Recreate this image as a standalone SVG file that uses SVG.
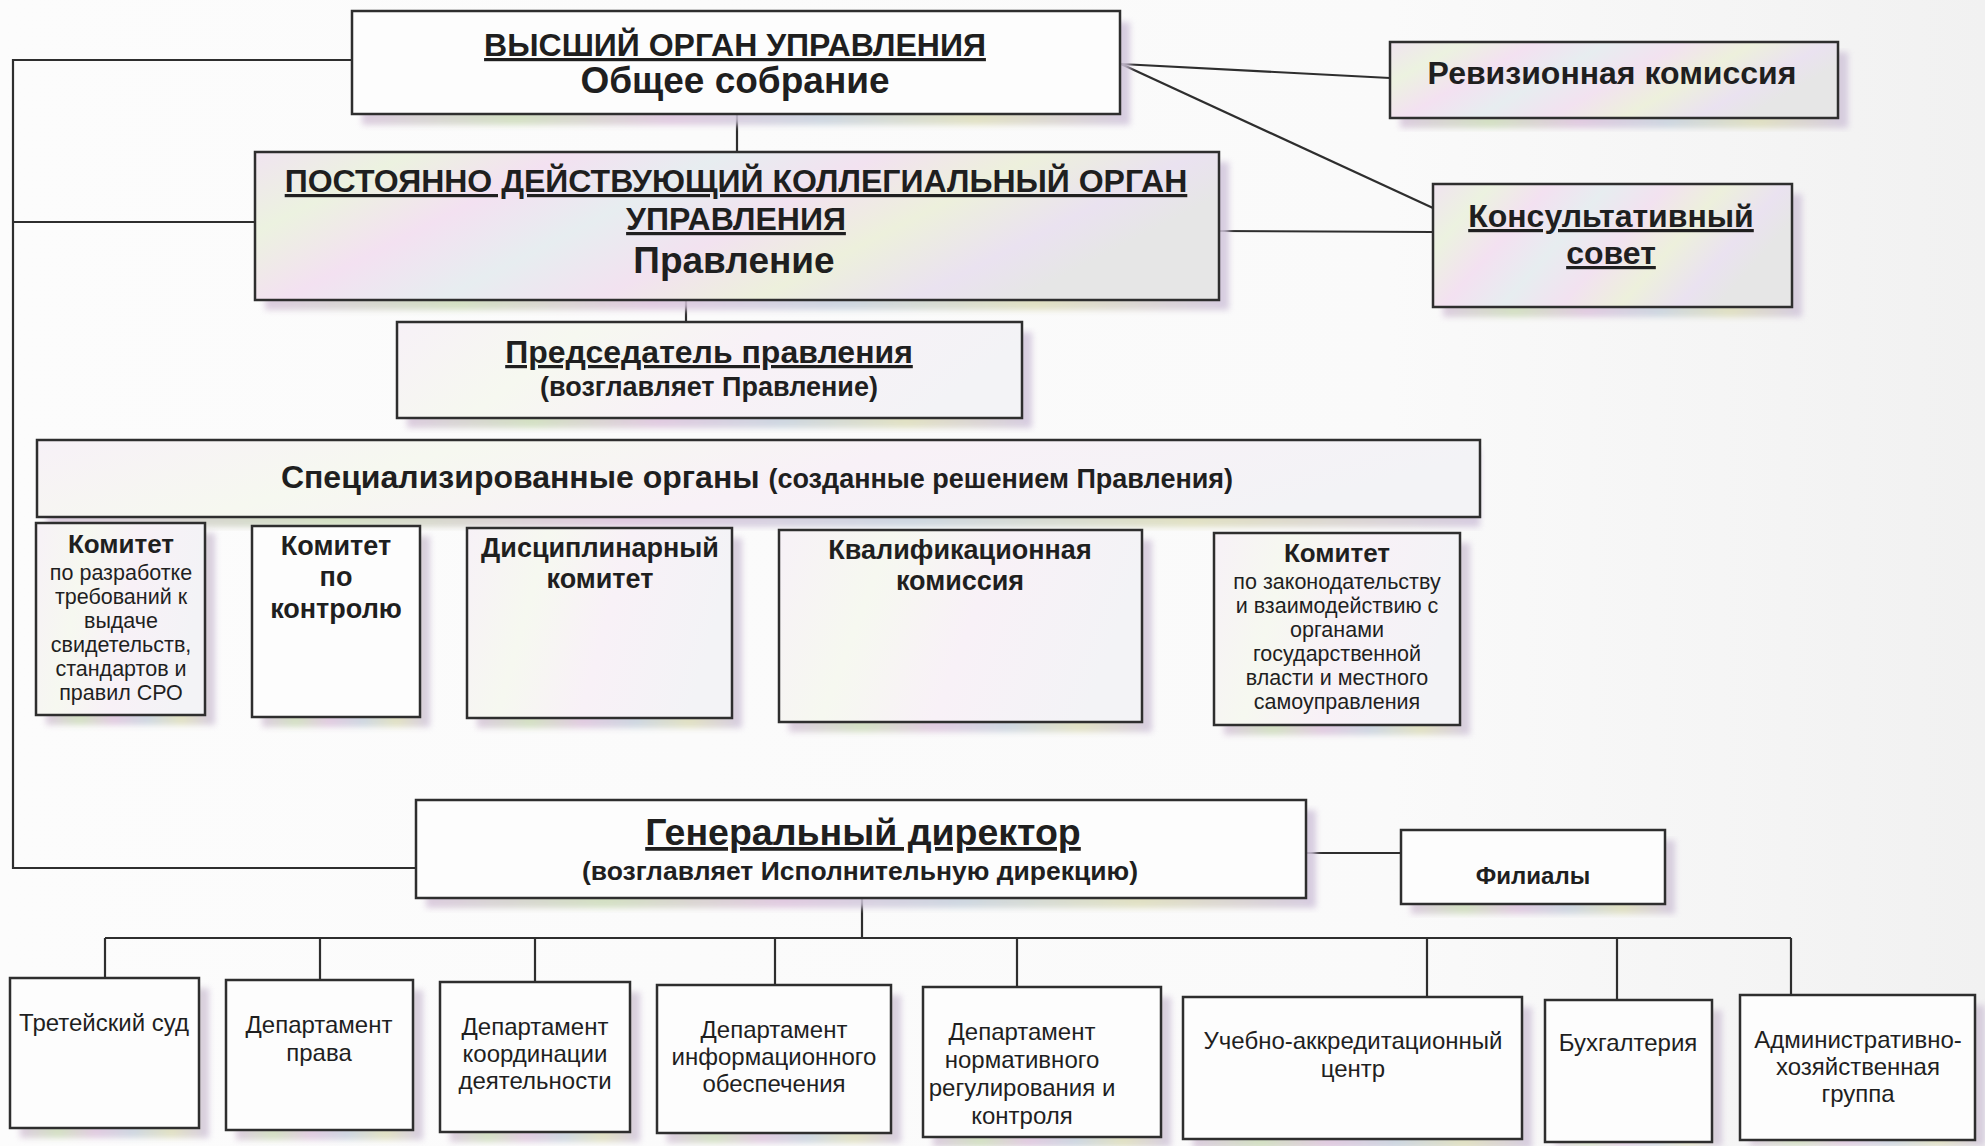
<svg xmlns="http://www.w3.org/2000/svg" width="1985" height="1146" viewBox="0 0 1985 1146">
<defs>
<linearGradient id="bg" x1="0" y1="0" x2="1" y2="0">
<stop offset="0" stop-color="#fcfcfc"/><stop offset="0.7" stop-color="#fafafa"/><stop offset="1" stop-color="#f1f1f1"/>
</linearGradient>
<linearGradient id="pastel" x1="0" y1="0" x2="1" y2="0.3">
<stop offset="0" stop-color="#f0e4f0"/><stop offset="0.15" stop-color="#ecf2e0"/><stop offset="0.3" stop-color="#f3e1f1"/>
<stop offset="0.45" stop-color="#e7edf0"/><stop offset="0.6" stop-color="#f2e2f0"/><stop offset="0.75" stop-color="#edf0dc"/>
<stop offset="0.9" stop-color="#eae2f0"/><stop offset="1" stop-color="#e6e6e6"/>
</linearGradient>
<linearGradient id="light" x1="0" y1="0" x2="1" y2="0.2">
<stop offset="0" stop-color="#f7f1f7"/><stop offset="0.3" stop-color="#f6f8f0"/><stop offset="0.6" stop-color="#f8f1f7"/><stop offset="1" stop-color="#f3f3f6"/>
</linearGradient>
<linearGradient id="shade" x1="0" y1="0" x2="1" y2="0">
<stop offset="0" stop-color="#d6c4da"/><stop offset="0.2" stop-color="#ccdbb9"/><stop offset="0.4" stop-color="#dcc2dc"/>
<stop offset="0.6" stop-color="#c6d0dc"/><stop offset="0.8" stop-color="#dcdcb9"/><stop offset="1" stop-color="#d0c4dc"/>
</linearGradient>
<filter id="blur" x="-5%" y="-5%" width="110%" height="110%"><feGaussianBlur stdDeviation="3"/></filter>
<style>
.box{stroke:#2e2e2e;stroke-width:2.5}
.sh{fill:url(#shade);filter:url(#blur);opacity:0.85}
.p{fill:url(#pastel)}
.l{fill:url(#light)}
.w{fill:#fdfdfd}
.t{font-family:"Liberation Sans",Arial,sans-serif;fill:#1f1f1f;text-anchor:middle}
.b{font-weight:bold}
.u{text-decoration:underline}
.c line,.c polyline{stroke:#2e2e2e;stroke-width:2.2;fill:none}
</style>
</defs>
<rect width="1985" height="1146" fill="url(#bg)"/>

<g class="c" id="connectors">
<polyline points="352,60 13,60 13,868 416,868"/>
<line x1="255" y1="222" x2="13" y2="222"/>
<line x1="737" y1="114" x2="737" y2="152"/>
<line x1="1121" y1="64" x2="1390" y2="78"/>
<line x1="1121" y1="64" x2="1433" y2="208"/>
<line x1="1219" y1="231" x2="1433" y2="232"/>
<line x1="686" y1="300" x2="686" y2="322"/>
<line x1="1306" y1="853" x2="1401" y2="853"/>
<line x1="862" y1="898" x2="862" y2="938"/>
<line x1="105" y1="938" x2="1791" y2="938"/>
<line x1="105" y1="938" x2="105" y2="978"/>
<line x1="320" y1="938" x2="320" y2="980"/>
<line x1="535" y1="938" x2="535" y2="982"/>
<line x1="775" y1="938" x2="775" y2="985"/>
<line x1="1017" y1="938" x2="1017" y2="987"/>
<line x1="1427" y1="938" x2="1427" y2="997"/>
<line x1="1617" y1="938" x2="1617" y2="1000"/>
<line x1="1791" y1="938" x2="1791" y2="995"/>
</g>

<g id="n-general-meeting">
<rect class="sh" x="362" y="22" width="768" height="103"/>
<rect class="box w" x="352" y="11" width="768" height="103"/>
<text class="t b u" x="735" y="56" font-size="32">ВЫСШИЙ ОРГАН УПРАВЛЕНИЯ</text>
<text class="t b" x="735" y="93" font-size="37">Общее собрание</text>
</g>

<g id="n-audit">
<rect class="sh" x="1400" y="52" width="448" height="76"/>
<rect class="box p" x="1390" y="42" width="448" height="76"/>
<text class="t b" x="1612" y="84" font-size="32">Ревизионная комиссия</text>
</g>

<g id="n-board">
<rect class="sh" x="265" y="162" width="964" height="148"/>
<rect class="box p" x="255" y="152" width="964" height="148"/>
<text class="t b u" x="736" y="192" font-size="32">ПОСТОЯННО ДЕЙСТВУЮЩИЙ КОЛЛЕГИАЛЬНЫЙ ОРГАН</text>
<text class="t b u" x="736" y="230" font-size="32">УПРАВЛЕНИЯ</text>
<text class="t b" x="734" y="273" font-size="37">Правление</text>
</g>

<g id="n-advisory">
<rect class="sh" x="1443" y="194" width="359" height="123"/>
<rect class="box p" x="1433" y="184" width="359" height="123"/>
<text class="t b u" x="1611" y="227" font-size="32">Консультативный</text>
<text class="t b u" x="1611" y="264" font-size="32">совет</text>
</g>

<g id="n-chairman">
<rect class="sh" x="407" y="332" width="625" height="96"/>
<rect class="box l" x="397" y="322" width="625" height="96"/>
<text class="t b u" x="709" y="363" font-size="32">Председатель правления</text>
<text class="t b" x="709" y="396" font-size="27">(возглавляет Правление)</text>
</g>

<g id="n-special">
<rect class="sh" x="47" y="450" width="1433" height="77"/>
<rect class="box l" x="37" y="440" width="1443" height="77"/>
<text class="t b" x="757" y="488" font-size="32">Специализированные органы <tspan font-size="27">(созданные решением Правления)</tspan></text>
</g>

<g id="n-com-req">
<rect class="sh" x="46" y="533" width="169" height="192"/>
<rect class="box l" x="36" y="523" width="169" height="192"/>
<text class="t" x="121" y="553" font-size="21.5"><tspan class="b" font-size="26">Комитет</tspan><tspan x="121" dy="27">по разработке</tspan><tspan x="121" dy="24">требований к</tspan><tspan x="121" dy="24">выдаче</tspan><tspan x="121" dy="24">свидетельств,</tspan><tspan x="121" dy="24">стандартов и</tspan><tspan x="121" dy="24">правил СРО</tspan></text>
</g>

<g id="n-com-control">
<rect class="sh" x="262" y="536" width="168" height="191"/>
<rect class="box w" x="252" y="526" width="168" height="191"/>
<text class="t b" x="336" y="555" font-size="27">Комитет<tspan x="336" dy="31">по</tspan><tspan x="336" dy="32">контролю</tspan></text>
</g>

<g id="n-disc">
<rect class="sh" x="477" y="538" width="265" height="190"/>
<rect class="box l" x="467" y="528" width="265" height="190"/>
<text class="t b" x="600" y="557" font-size="27">Дисциплинарный<tspan x="600" dy="31">комитет</tspan></text>
</g>

<g id="n-qual">
<rect class="sh" x="789" y="540" width="363" height="192"/>
<rect class="box l" x="779" y="530" width="363" height="192"/>
<text class="t b" x="960" y="559" font-size="27">Квалификационная<tspan x="960" dy="31">комиссия</tspan></text>
</g>

<g id="n-com-law">
<rect class="sh" x="1224" y="543" width="246" height="192"/>
<rect class="box l" x="1214" y="533" width="246" height="192"/>
<text class="t" x="1337" y="562" font-size="21.5"><tspan class="b" font-size="26">Комитет</tspan><tspan x="1337" dy="27">по законодательству</tspan><tspan x="1337" dy="24">и взаимодействию с</tspan><tspan x="1337" dy="24">органами</tspan><tspan x="1337" dy="24">государственной</tspan><tspan x="1337" dy="24">власти и местного</tspan><tspan x="1337" dy="24">самоуправления</tspan></text>
</g>

<g id="n-director">
<rect class="sh" x="426" y="810" width="890" height="98"/>
<rect class="box w" x="416" y="800" width="890" height="98"/>
<text class="t b u" x="863" y="845" font-size="37.5">Генеральный директор</text>
<text class="t b" x="860" y="880" font-size="26.5">(возглавляет Исполнительную дирекцию)</text>
</g>

<g id="n-branches">
<rect class="sh" x="1411" y="840" width="264" height="74"/>
<rect class="box w" x="1401" y="830" width="264" height="74"/>
<text class="t b" x="1533" y="884" font-size="24">Филиалы</text>
</g>

<g id="n-court">
<rect class="sh" x="20" y="988" width="189" height="150"/>
<rect class="box w" x="10" y="978" width="189" height="150"/>
<text class="t" x="104" y="1031" font-size="24">Третейский суд</text>
</g>

<g id="n-dep-law">
<rect class="sh" x="236" y="990" width="187" height="150"/>
<rect class="box w" x="226" y="980" width="187" height="150"/>
<text class="t" x="319" y="1033" font-size="24">Департамент<tspan x="319" dy="28">права</tspan></text>
</g>

<g id="n-dep-coord">
<rect class="sh" x="450" y="992" width="190" height="150"/>
<rect class="box w" x="440" y="982" width="190" height="150"/>
<text class="t" x="535" y="1035" font-size="24">Департамент<tspan x="535" dy="27">координации</tspan><tspan x="535" dy="27">деятельности</tspan></text>
</g>

<g id="n-dep-info">
<rect class="sh" x="667" y="995" width="234" height="148"/>
<rect class="box w" x="657" y="985" width="234" height="148"/>
<text class="t" x="774" y="1038" font-size="24">Департамент<tspan x="774" dy="27">информационного</tspan><tspan x="774" dy="27">обеспечения</tspan></text>
</g>

<g id="n-dep-norm">
<rect class="sh" x="933" y="997" width="238" height="150"/>
<rect class="box w" x="923" y="987" width="238" height="150"/>
<text class="t" x="1022" y="1040" font-size="24">Департамент<tspan x="1022" dy="28">нормативного</tspan><tspan x="1022" dy="28">регулирования и</tspan><tspan x="1022" dy="28">контроля</tspan></text>
</g>

<g id="n-training">
<rect class="sh" x="1193" y="1007" width="339" height="142"/>
<rect class="box w" x="1183" y="997" width="339" height="142"/>
<text class="t" x="1353" y="1049" font-size="24">Учебно-аккредитационный<tspan x="1353" dy="28">центр</tspan></text>
</g>

<g id="n-accounting">
<rect class="sh" x="1555" y="1010" width="167" height="136"/>
<rect class="box w" x="1545" y="1000" width="167" height="142"/>
<text class="t" x="1628" y="1051" font-size="24">Бухгалтерия</text>
</g>

<g id="n-admin">
<rect class="sh" x="1750" y="1005" width="235" height="141"/>
<rect class="box w" x="1740" y="995" width="235" height="145"/>
<text class="t" x="1858" y="1048" font-size="24">Административно-<tspan x="1858" dy="27">хозяйственная</tspan><tspan x="1858" dy="27">группа</tspan></text>
</g>
</svg>
